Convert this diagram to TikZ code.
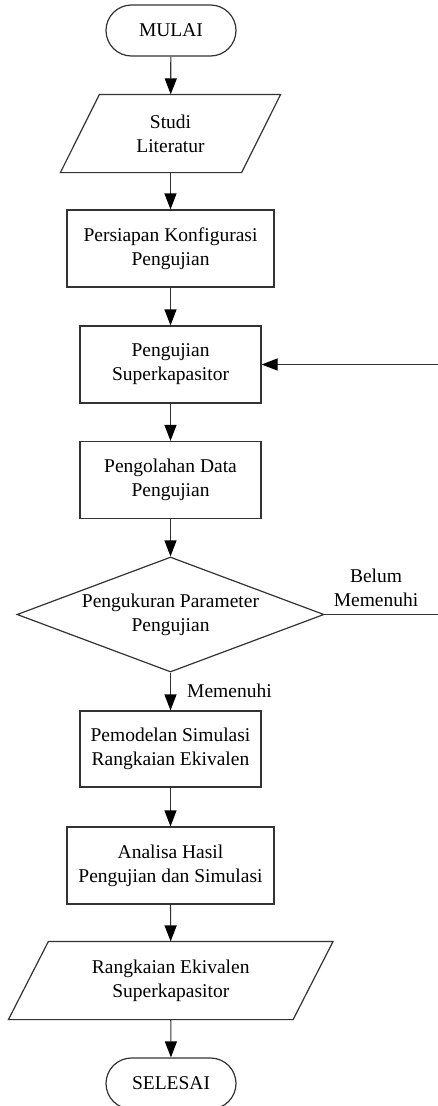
\documentclass[tikz,border=0pt]{standalone}
\usepackage{fontspec}
\setmainfont{Liberation Serif}
\usetikzlibrary{shapes.geometric,arrows.meta,calc}
\tikzset{
  base/.style={font=\fontsize{19.5}{24}\selectfont, align=center, inner sep=2pt, line width=1.2pt, draw=black!80},
  proc/.style={base, rectangle, draw, minimum height=77pt},
  term/.style={base, rectangle, draw, rounded corners=25.5pt, minimum width=130pt, minimum height=51pt},
  iotext/.style={base, rectangle, draw=none, minimum height=77pt},
  dec/.style={base, diamond, draw, aspect=2.67, minimum width=307pt, minimum height=115pt, inner sep=0pt},
  lbl/.style={font=\fontsize{19.5}{24}\selectfont, align=center, inner sep=0pt},
  flow/.style={line width=1.2pt, draw=black!80, -{Triangle[width=12pt,length=16pt,color=black]}},
  io/.style={line width=1.2pt, draw=black!80}
}
\begin{document}
\begin{tikzpicture}[x=1pt,y=-1pt]
\path[use as bounding box, clip] (0,0) rectangle (438,1106);
\fill[white] (0,0) rectangle (438,1106);

\node[term] (mulai) at (171,30.5) {MULAI};
\node[iotext, minimum width=180pt] (studi) at (170.5,133.5) {Studi\\Literatur};
\draw[io] ($(studi.north west)+(19.5,0)$) -- ($(studi.north east)+(19.5,0)$) -- ($(studi.south east)+(-19.5,0)$) -- ($(studi.south west)+(-19.5,0)$) -- cycle;
\node[proc, minimum width=207pt] (persiapan) at (170.5,248.5) {Persiapan Konfigurasi\\Pengujian};
\node[proc, minimum width=181pt] (uji) at (170.5,364.5) {Pengujian\\Superkapasitor};
\node[proc, minimum width=181pt] (olah) at (170.5,480) {Pengolahan Data\\Pengujian};
\node[dec] (ukur) at (170.5,614.5) {Pengukuran Parameter\\Pengujian};
\node[proc, minimum width=181pt, minimum height=76pt] (model) at (170.5,749) {Pemodelan Simulasi\\Rangkaian Ekivalen};
\node[proc, minimum width=207pt] (analisa) at (170.5,865.5) {Analisa Hasil\\Pengujian dan Simulasi};
\node[iotext, minimum width=283.5pt] (hasil) at (170.75,980.5) {Rangkaian Ekivalen\\Superkapasitor};
\draw[io] ($(hasil.north west)+(20,0)$) -- ($(hasil.north east)+(20,0)$) -- ($(hasil.south east)+(-20,0)$) -- ($(hasil.south west)+(-20,0)$) -- cycle;
\node[term] (selesai) at (171,1083.5) {SELESAI};

\node[lbl] (belum) at (376,588) {Belum\\Memenuhi};
\node[lbl, anchor=west] (memenuhi) at (187,691) {Memenuhi};

\coordinate (fbturn) at (450,614.5);

\draw[flow] (mulai) -- (studi);
\draw[flow] (studi) -- (persiapan);
\draw[flow] (persiapan) -- (uji);
\draw[flow] (uji) -- (olah);
\draw[flow] (olah) -- (ukur);
\draw[flow] (ukur) -- (model);
\draw[flow] (model) -- (analisa);
\draw[flow] (analisa) -- (hasil);
\draw[flow] (hasil) -- (selesai);
\draw[flow] (ukur.east) -- (fbturn) |- (uji.east);
\end{tikzpicture}
\end{document}
